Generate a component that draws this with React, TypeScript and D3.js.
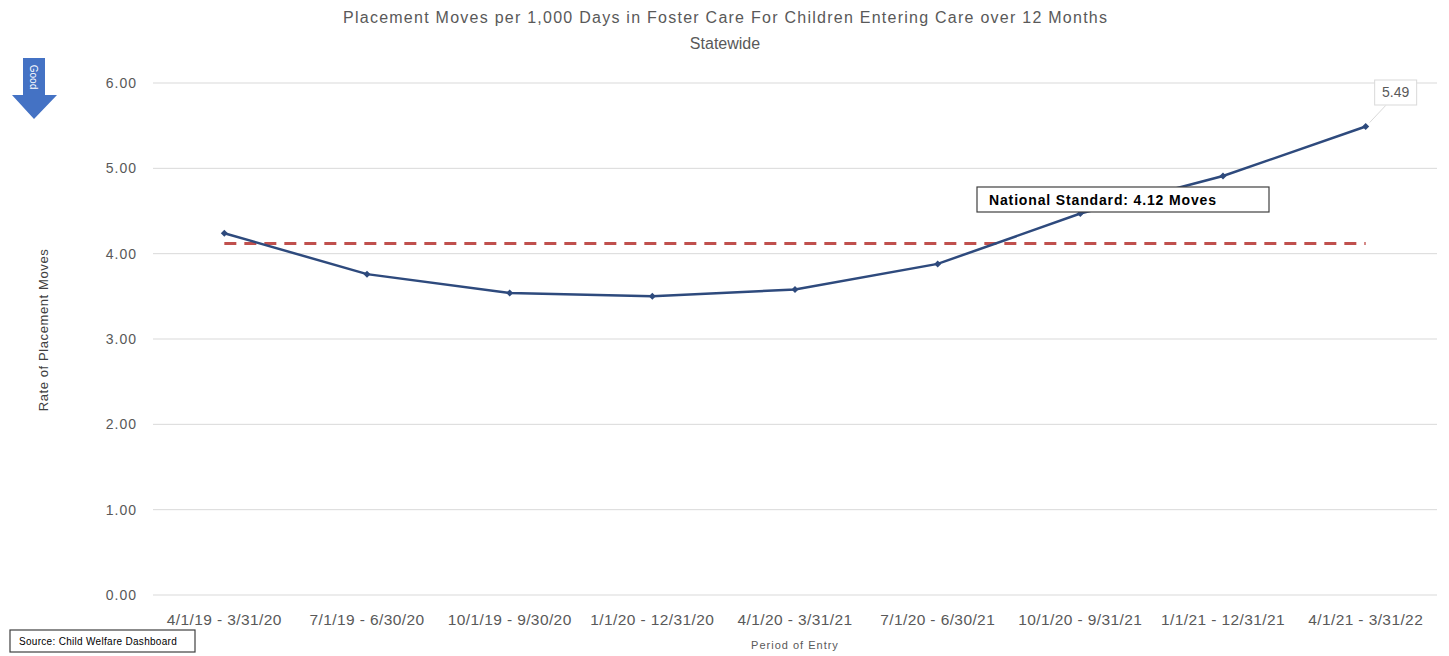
import React from "react";
import * as d3 from "d3";

const periods = [
  "4/1/19 - 3/31/20",
  "7/1/19 - 6/30/20",
  "10/1/19 - 9/30/20",
  "1/1/20 - 12/31/20",
  "4/1/20 - 3/31/21",
  "7/1/20 - 6/30/21",
  "10/1/20 - 9/31/21",
  "1/1/21 - 12/31/21",
  "4/1/21 - 3/31/22",
];
const rates = [4.24, 3.76, 3.54, 3.5, 3.58, 3.88, 4.47, 4.91, 5.49];
const yTicks = [0, 1, 2, 3, 4, 5, 6];
const nationalStandard = 4.12;

const W = 1449;
const H = 656;
const FONT = "'Liberation Sans', Arial, sans-serif";

export default function App() {
  const x = d3.scaleBand<string>().domain(periods).range([153, 1437]);
  const y = d3.scaleLinear().domain([0, 6]).range([595, 83]);
  const cx = (p: string) => (x(p) ?? 0) + x.bandwidth() / 2;

  const line = d3
    .line<number>()
    .x((_, i) => cx(periods[i]))
    .y((d) => y(d));

  const lastI = rates.length - 1;
  const lx = cx(periods[lastI]);
  const ly = y(rates[lastI]);

  return (
    <svg width={W} height={H} style={{ position: "absolute", left: 0, top: 0, background: "#fff" }}>
      <rect x={0} y={0} width={W} height={H} fill="#fff" />
      {/* title */}
      <text x={725} y={23} textAnchor="middle" fontFamily={FONT} fontSize={16} fill="#595959" textLength={764} lengthAdjust="spacing">
        Placement Moves per 1,000 Days in Foster Care For Children Entering Care over 12 Months
      </text>
      <text x={725} y={49} textAnchor="middle" fontFamily={FONT} fontSize={16} fill="#595959">
        Statewide
      </text>

      {/* good arrow */}
      <path d="M23,58 L45,58 L45,95 L57,95 L34,119 L12,95 L23,95 Z" fill="#4472C4" />
      <text
        transform="translate(30,77) rotate(90)"
        textAnchor="middle"
        fontFamily={FONT}
        fontSize={10}
        fill="#fff"
      >
        Good
      </text>

      {/* gridlines */}
      {yTicks.map((t) => (
        <g key={t}>
          <line x1={153} x2={1437} y1={y(t)} y2={y(t)} stroke="#d9d9d9" strokeWidth={1} />
          <text x={137} y={y(t) + 5} textAnchor="end" fontFamily={FONT} fontSize={14} letterSpacing={1} fill="#595959">
            {t.toFixed(2)}
          </text>
        </g>
      ))}

      {/* x labels */}
      {periods.map((p) => (
        <text key={p} x={cx(p)} y={625} textAnchor="middle" fontFamily={FONT} fontSize={15.5} letterSpacing={0.4} fill="#595959">
          {p}
        </text>
      ))}

      {/* axis titles */}
      <text
        transform="translate(48,330) rotate(-90)"
        textAnchor="middle"
        fontFamily={FONT}
        fontSize={13}
        letterSpacing={0.6}
        fill="#404040"
      >
        Rate of Placement Moves
      </text>
      <text x={795} y={649} textAnchor="middle" fontFamily={FONT} fontSize={11} letterSpacing={1} fill="#595959">
        Period of Entry
      </text>

      {/* national standard dashed line */}
      <line
        x1={cx(periods[0])}
        x2={cx(periods[lastI])}
        y1={y(nationalStandard)}
        y2={y(nationalStandard)}
        stroke="#C0504D"
        strokeWidth={3}
        strokeDasharray="12,8"
      />

      {/* series line */}
      <path d={line(rates) ?? ""} fill="none" stroke="#2E4A7D" strokeWidth={2.5} />
      {rates.map((r, i) => (
        <path
          key={i}
          transform={`translate(${cx(periods[i])},${y(r)})`}
          d="M0,-3.5 L3.5,0 L0,3.5 L-3.5,0 Z"
          fill="#2E4A7D"
        />
      ))}

      {/* data label for last point */}
      <line x1={lx + 4} y1={ly - 4} x2={lx + 20} y2={ly - 21} stroke="#d9d9d9" strokeWidth={1} />
      <rect x={lx + 9} y={80} width={42} height={25} fill="#fff" stroke="#d9d9d9" />
      <text x={lx + 30} y={97} textAnchor="middle" fontFamily={FONT} fontSize={14} fill="#595959">
        {rates[lastI].toFixed(2)}
      </text>

      {/* national standard label */}
      <rect x={977} y={187} width={292} height={25} fill="#fff" stroke="#404040" strokeWidth={1.2} />
      <text x={989} y={205} fontFamily={FONT} fontSize={14} fontWeight="bold" fill="#000" textLength={227} lengthAdjust="spacing">
        National Standard: {nationalStandard.toFixed(2)} Moves
      </text>

      {/* source box */}
      <rect x={10} y={630} width={185} height={22} fill="#fff" stroke="#404040" strokeWidth={1.2} />
      <text x={19} y={645} fontFamily={FONT} fontSize={10} letterSpacing={0.3} fill="#000">
        Source: Child Welfare Dashboard
      </text>
    </svg>
  );
}
